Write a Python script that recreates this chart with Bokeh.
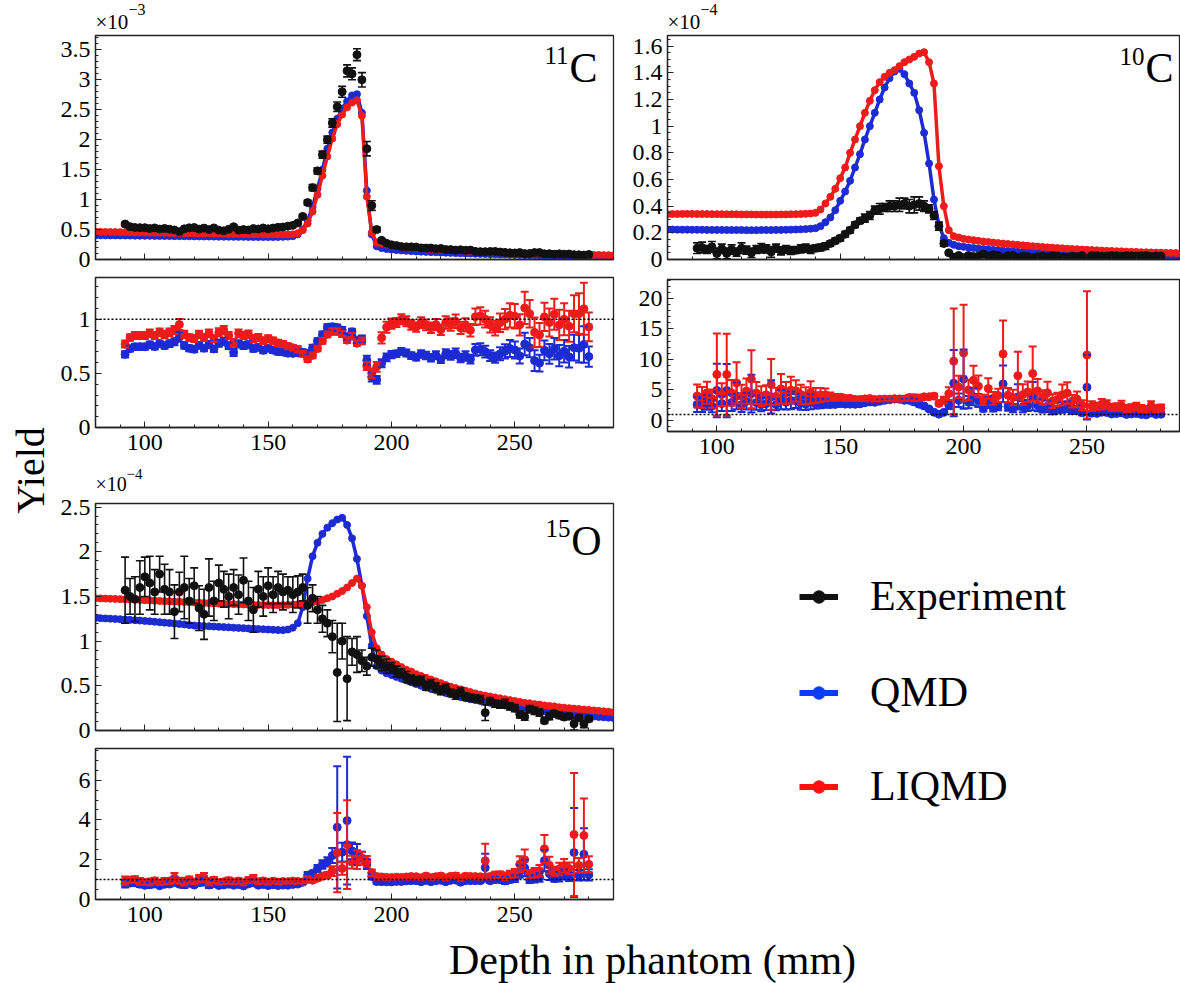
import math
from bokeh.plotting import figure
from bokeh.models import (Range1d, FixedTicker, ColumnDataSource, Whisker, TeeHead,
                          Span, Label, Legend, LegendItem)
from bokeh.layouts import row, column
from bokeh.core.properties import value
from bokeh.embed import file_html
from bokeh.resources import INLINE

FONT = "Liberation Serif"
FRAME = "#222222"
BLACK = "#111111"
BLUE = "#1c2bd2"
RED = "#ee1b1b"
LEG_COLORS = ["#111111", "#0b3cf5", "#ff1010"]
LEG_NAMES = ["Experiment", "QMD", "LIQMD"]

# ---------------- depth grids (mm) ----------------
SIM_DEPTH_MM = [80, 82, 84, 86, 88, 90, 92, 94, 96, 98,
                100, 102, 104, 106, 108, 110, 112, 114, 116, 118,
                120, 122, 124, 126, 128, 130, 132, 134, 136, 138,
                140, 142, 144, 146, 148, 150, 152, 154, 156, 158,
                160, 162, 164, 166, 168, 170, 172, 174, 176, 178,
                180, 182, 184, 186, 188, 190, 192, 194, 196, 198,
                200, 202, 204, 206, 208, 210, 212, 214, 216, 218,
                220, 222, 224, 226, 228, 230, 232, 234, 236, 238,
                240, 242, 244, 246, 248, 250, 252, 254, 256, 258,
                260, 262, 264, 266, 268, 270, 272, 274, 276, 278,
                280, 282, 284, 286, 288, 290]

EXP_DEPTH_MM = [92, 94, 96, 98, 100, 102, 104, 106, 108, 110,
                112, 114, 116, 118, 120, 122, 124, 126, 128, 130,
                132, 134, 136, 138, 140, 142, 144, 146, 148, 150,
                152, 154, 156, 158, 160, 162, 164, 166, 168, 170,
                172, 174, 176, 178, 180, 182, 184, 186, 188, 190,
                192, 194, 196, 198, 200, 202, 204, 206, 208, 210,
                212, 214, 216, 218, 220, 222, 224, 226, 228, 230,
                232, 234, 236, 238, 240, 242, 244, 246, 248, 250,
                252, 254, 256, 258, 260, 262, 264, 266, 268, 270,
                272, 274, 276, 278, 280]

# ---------------- 11C yield (x 1e-3) ----------------
C11_QMD = [0.405, 0.404, 0.403, 0.402, 0.402, 0.401, 0.400, 0.399, 0.398, 0.397,
           0.396, 0.395, 0.394, 0.393, 0.392, 0.391, 0.390, 0.389, 0.388, 0.387,
           0.386, 0.385, 0.384, 0.383, 0.382, 0.381, 0.380, 0.380, 0.379, 0.378,
           0.378, 0.377, 0.376, 0.376, 0.375, 0.375, 0.375, 0.376, 0.378, 0.382,
           0.39, 0.42, 0.50, 0.65, 0.88, 1.18, 1.50, 1.85, 2.12, 2.35,
           2.52, 2.64, 2.74, 2.76, 2.45, 1.15, 0.42, 0.22, 0.19, 0.175,
           0.165, 0.158, 0.151, 0.145, 0.140, 0.135, 0.131, 0.127, 0.123, 0.120,
           0.116, 0.113, 0.110, 0.107, 0.104, 0.101, 0.099, 0.096, 0.094, 0.091,
           0.089, 0.087, 0.085, 0.083, 0.081, 0.078, 0.076, 0.074, 0.073, 0.071,
           0.069, 0.067, 0.066, 0.064, 0.063, 0.062, 0.060, 0.059, 0.057, 0.056,
           0.055, 0.054, 0.053, 0.051, 0.050, 0.049]
C11_LIQMD = [0.462, 0.461, 0.460, 0.459, 0.458, 0.457, 0.456, 0.455, 0.454, 0.452,
             0.451, 0.450, 0.448, 0.447, 0.446, 0.444, 0.443, 0.442, 0.440, 0.439,
             0.438, 0.436, 0.435, 0.434, 0.432, 0.431, 0.430, 0.428, 0.427, 0.426,
             0.425, 0.424, 0.423, 0.422, 0.421, 0.420, 0.420, 0.419, 0.418, 0.418,
             0.42, 0.44, 0.49, 0.60, 0.80, 1.08, 1.40, 1.72, 2.02, 2.26,
             2.42, 2.54, 2.62, 2.66, 2.40, 1.05, 0.45, 0.28, 0.265, 0.25,
             0.235, 0.225, 0.215, 0.207, 0.200, 0.193, 0.187, 0.181, 0.176, 0.171,
             0.166, 0.161, 0.157, 0.153, 0.149, 0.145, 0.141, 0.137, 0.134, 0.130,
             0.127, 0.124, 0.121, 0.118, 0.115, 0.112, 0.109, 0.106, 0.104, 0.101,
             0.099, 0.096, 0.094, 0.092, 0.090, 0.088, 0.086, 0.084, 0.082, 0.080,
             0.078, 0.077, 0.075, 0.073, 0.072, 0.070]
C11_EXP = [0.592, 0.548, 0.534, 0.532, 0.531, 0.517, 0.527, 0.508, 0.519, 0.505,
           0.492, 0.465, 0.512, 0.529, 0.534, 0.507, 0.524, 0.499, 0.527, 0.490,
           0.478, 0.504, 0.547, 0.490, 0.500, 0.493, 0.516, 0.508, 0.526, 0.512,
           0.525, 0.537, 0.543, 0.557, 0.570, 0.610, 0.720, 0.950, 1.200, 1.480,
           1.750, 2.000, 2.280, 2.550, 2.800, 3.150, 3.100, 3.420, 3.000, 1.850,
           0.900, 0.500, 0.320, 0.270, 0.245, 0.232, 0.215, 0.211, 0.211, 0.208,
           0.193, 0.191, 0.191, 0.180, 0.184, 0.166, 0.165, 0.156, 0.162, 0.153,
           0.157, 0.134, 0.130, 0.130, 0.134, 0.135, 0.125, 0.118, 0.111, 0.109,
           0.115, 0.096, 0.099, 0.115, 0.116, 0.094, 0.097, 0.088, 0.095, 0.088,
           0.092, 0.080, 0.078, 0.073, 0.084]
C11_EXP_ERR = [0.025, 0.02, 0.02, 0.02, 0.02, 0.02, 0.02, 0.02, 0.02, 0.02,
               0.02, 0.025, 0.02, 0.02, 0.02, 0.02, 0.02, 0.02, 0.02, 0.02,
               0.02, 0.02, 0.025, 0.02, 0.02, 0.02, 0.02, 0.02, 0.02, 0.02,
               0.02, 0.02, 0.02, 0.02, 0.02, 0.025, 0.03, 0.04, 0.05, 0.05,
               0.06, 0.06, 0.07, 0.08, 0.09, 0.10, 0.10, 0.10, 0.12, 0.12,
               0.08, 0.04, 0.02, 0.015, 0.012, 0.010, 0.010, 0.010, 0.010, 0.010,
               0.010, 0.010, 0.010, 0.010, 0.010, 0.010, 0.010, 0.010, 0.010, 0.010,
               0.010, 0.010, 0.010, 0.010, 0.010, 0.010, 0.011, 0.011, 0.012, 0.012,
               0.012, 0.013, 0.012, 0.018, 0.015, 0.012, 0.013, 0.012, 0.014, 0.013,
               0.014, 0.013, 0.014, 0.016, 0.012]

# ---------------- 10C yield (x 1e-4) ----------------
C10_QMD = [0.225, 0.225, 0.224, 0.224, 0.224, 0.223, 0.223, 0.223, 0.222, 0.222,
           0.222, 0.222, 0.221, 0.221, 0.221, 0.221, 0.220, 0.220, 0.220, 0.221,
           0.221, 0.221, 0.222, 0.222, 0.223, 0.224, 0.225, 0.226, 0.228, 0.231,
           0.235, 0.250, 0.280, 0.315, 0.370, 0.440, 0.510, 0.590, 0.690, 0.790,
           0.900, 1.000, 1.100, 1.200, 1.290, 1.360, 1.410, 1.430, 1.390, 1.320,
           1.250, 1.120, 0.950, 0.720, 0.450, 0.260, 0.160, 0.125, 0.110, 0.100,
           0.095, 0.090, 0.086, 0.082, 0.078, 0.075, 0.072, 0.069, 0.066, 0.063,
           0.061, 0.058, 0.056, 0.054, 0.052, 0.050, 0.048, 0.047, 0.045, 0.044,
           0.042, 0.041, 0.040, 0.039, 0.038, 0.037, 0.036, 0.035, 0.034, 0.033,
           0.032, 0.032, 0.031, 0.030, 0.030, 0.029, 0.028, 0.028, 0.027, 0.027,
           0.026, 0.026, 0.025, 0.025, 0.024, 0.024]
C10_LIQMD = [0.340, 0.341, 0.341, 0.342, 0.342, 0.342, 0.341, 0.341, 0.341, 0.340,
             0.340, 0.340, 0.339, 0.339, 0.339, 0.338, 0.338, 0.338, 0.337, 0.337,
             0.337, 0.337, 0.337, 0.338, 0.338, 0.339, 0.340, 0.341, 0.343, 0.345,
             0.350, 0.375, 0.420, 0.470, 0.530, 0.610, 0.690, 0.800, 0.900, 1.000,
             1.100, 1.190, 1.270, 1.330, 1.370, 1.400, 1.420, 1.450, 1.480, 1.500,
             1.520, 1.545, 1.555, 1.480, 1.320, 0.700, 0.400, 0.220, 0.175, 0.165,
             0.155, 0.150, 0.145, 0.140, 0.135, 0.131, 0.127, 0.123, 0.120, 0.116,
             0.113, 0.110, 0.106, 0.103, 0.100, 0.097, 0.094, 0.091, 0.089, 0.086,
             0.084, 0.081, 0.079, 0.077, 0.075, 0.073, 0.071, 0.069, 0.067, 0.065,
             0.064, 0.062, 0.061, 0.059, 0.058, 0.057, 0.055, 0.054, 0.053, 0.052,
             0.051, 0.050, 0.049, 0.048, 0.047, 0.046]
C10_EXP = [0.085, 0.090, 0.075, 0.095, 0.045, 0.080, 0.045, 0.075, 0.055, 0.085,
           0.070, 0.050, 0.075, 0.085, 0.080, 0.057, 0.085, 0.065, 0.075, 0.068,
           0.070, 0.080, 0.085, 0.075, 0.085, 0.090, 0.100, 0.120, 0.140, 0.160,
           0.190, 0.220, 0.260, 0.290, 0.310, 0.330, 0.370, 0.380, 0.390, 0.400,
           0.400, 0.410, 0.420, 0.400, 0.410, 0.420, 0.400, 0.380, 0.330, 0.250,
           0.120, 0.050, 0.018, 0.030, 0.014, 0.030, 0.022, 0.025, 0.040, 0.025,
           0.035, 0.030, 0.011, 0.028, 0.030, 0.015, 0.025, 0.022, 0.013, 0.020,
           0.025, 0.020, 0.028, 0.025, 0.020, 0.018, 0.025, 0.022, 0.030, 0.0068,
           0.030, 0.030, 0.025, 0.025, 0.030, 0.028, 0.025, 0.030, 0.028, 0.025,
           0.028, 0.030, 0.022, 0.027, 0.025]
C10_EXP_ERR = [0.040, 0.040, 0.030, 0.040, 0.040, 0.035, 0.040, 0.035, 0.030, 0.040,
               0.030, 0.035, 0.030, 0.035, 0.030, 0.040, 0.030, 0.030, 0.030, 0.030,
               0.025, 0.030, 0.030, 0.030, 0.025, 0.025, 0.025, 0.020, 0.020, 0.020,
               0.020, 0.020, 0.020, 0.020, 0.030, 0.030, 0.030, 0.040, 0.030, 0.040,
               0.040, 0.050, 0.040, 0.050, 0.060, 0.050, 0.040, 0.030, 0.030, 0.030,
               0.020, 0.012, 0.016, 0.010, 0.010, 0.010, 0.008, 0.008, 0.010, 0.008,
               0.010, 0.008, 0.0055, 0.008, 0.010, 0.008, 0.010, 0.008, 0.0075, 0.008,
               0.008, 0.008, 0.010, 0.008, 0.008, 0.007, 0.008, 0.008, 0.010, 0.0066,
               0.010, 0.008, 0.008, 0.007, 0.008, 0.008, 0.008, 0.008, 0.008, 0.007,
               0.008, 0.008, 0.007, 0.008, 0.007]

# ---------------- 15O yield (x 1e-4) ----------------
C15O_QMD = [1.260, 1.257, 1.254, 1.251, 1.248, 1.245, 1.242, 1.238, 1.234, 1.230,
            1.226, 1.222, 1.217, 1.212, 1.207, 1.202, 1.197, 1.192, 1.187, 1.180,
            1.175, 1.172, 1.169, 1.166, 1.163, 1.160, 1.157, 1.154, 1.151, 1.148,
            1.145, 1.142, 1.139, 1.136, 1.133, 1.130, 1.127, 1.124, 1.123, 1.130,
            1.150, 1.200, 1.380, 1.700, 1.950, 2.100, 2.200, 2.270, 2.320, 2.360,
            2.380, 2.300, 2.150, 1.920, 1.620, 1.280, 0.950, 0.720, 0.670, 0.640,
            0.620, 0.600, 0.580, 0.560, 0.540, 0.520, 0.500, 0.480, 0.465, 0.450,
            0.435, 0.420, 0.405, 0.390, 0.375, 0.360, 0.350, 0.340, 0.330, 0.320,
            0.310, 0.300, 0.290, 0.280, 0.270, 0.262, 0.254, 0.246, 0.238, 0.230,
            0.222, 0.215, 0.208, 0.201, 0.195, 0.189, 0.183, 0.177, 0.171, 0.166,
            0.161, 0.156, 0.152, 0.148, 0.144, 0.140]
C15O_LIQMD = [1.480, 1.478, 1.476, 1.474, 1.472, 1.470, 1.468, 1.465, 1.462, 1.460,
              1.457, 1.455, 1.452, 1.450, 1.447, 1.445, 1.442, 1.440, 1.437, 1.435,
              1.432, 1.430, 1.427, 1.425, 1.422, 1.420, 1.418, 1.416, 1.414, 1.412,
              1.410, 1.408, 1.406, 1.405, 1.404, 1.403, 1.402, 1.402, 1.403, 1.405,
              1.408, 1.412, 1.418, 1.425, 1.435, 1.445, 1.460, 1.480, 1.500, 1.530,
              1.560, 1.600, 1.650, 1.700, 1.620, 1.380, 1.100, 0.920, 0.850, 0.800,
              0.770, 0.740, 0.710, 0.680, 0.660, 0.630, 0.610, 0.590, 0.570, 0.550,
              0.530, 0.510, 0.490, 0.475, 0.460, 0.445, 0.430, 0.415, 0.400, 0.390,
              0.380, 0.370, 0.360, 0.350, 0.340, 0.330, 0.320, 0.310, 0.305, 0.295,
              0.290, 0.280, 0.275, 0.270, 0.260, 0.255, 0.250, 0.245, 0.240, 0.235,
              0.230, 0.225, 0.220, 0.215, 0.210, 0.205]
C15O_EXP = [1.57, 1.50, 1.47, 1.60, 1.72, 1.65, 1.55, 1.75, 1.58, 1.55,
            1.33, 1.55, 1.60, 1.45, 1.62, 1.37, 1.30, 1.60, 1.45, 1.65,
            1.58, 1.50, 1.60, 1.52, 1.68, 1.45, 1.35, 1.58, 1.50, 1.62,
            1.52, 1.60, 1.55, 1.57, 1.52, 1.55, 1.60, 1.40, 1.48, 1.35,
            1.25, 1.20, 1.05, 0.65, 1.00, 0.58, 0.88, 0.85, 0.78, 0.72,
            0.82, 0.80, 0.75, 0.72, 0.70, 0.66, 0.64, 0.60, 0.57, 0.55,
            0.56, 0.50, 0.52, 0.48, 0.45, 0.47, 0.42, 0.40, 0.43, 0.38,
            0.37, 0.36, 0.35, 0.20, 0.33, 0.30, 0.29, 0.30, 0.27, 0.25,
            0.18, 0.155, 0.24, 0.22, 0.20, 0.11, 0.16, 0.19, 0.17, 0.15,
            0.16, 0.075, 0.14, 0.073, 0.13]
C15O_EXP_ERR = [0.37, 0.20, 0.25, 0.30, 0.22, 0.30, 0.25, 0.20, 0.28, 0.25,
                0.30, 0.22, 0.35, 0.25, 0.20, 0.25, 0.28, 0.32, 0.22, 0.20,
                0.20, 0.25, 0.20, 0.22, 0.25, 0.22, 0.25, 0.20, 0.22, 0.20,
                0.20, 0.18, 0.20, 0.15, 0.20, 0.18, 0.15, 0.20, 0.15, 0.15,
                0.15, 0.15, 0.18, 0.55, 0.20, 0.47, 0.15, 0.20, 0.12, 0.10,
                0.10, 0.10, 0.08, 0.08, 0.06, 0.06, 0.05, 0.06, 0.05, 0.05,
                0.05, 0.05, 0.05, 0.05, 0.05, 0.05, 0.04, 0.05, 0.05, 0.04,
                0.04, 0.04, 0.04, 0.088, 0.04, 0.04, 0.04, 0.05, 0.04, 0.04,
                0.04, 0.04, 0.04, 0.04, 0.04, 0.03, 0.04, 0.03, 0.035, 0.03,
                0.03, 0.071, 0.03, 0.042, 0.03]

# ---------------- ticks ----------------
X_TICKS = [100, 150, 200, 250]
X_LABELS = ["100", "150", "200", "250"]
X_MINOR = [80, 90, 110, 120, 130, 140, 160, 170, 180, 190, 210, 220, 230, 240, 260, 270, 280, 290]

C11_TICKS = [0, 0.5, 1, 1.5, 2, 2.5, 3, 3.5]
C11_LABELS = ["0", "0.5", "1", "1.5", "2", "2.5", "3", "3.5"]
C10_TICKS = [0, 0.2, 0.4, 0.6, 0.8, 1, 1.2, 1.4, 1.6]
C10_LABELS = ["0", "0.2", "0.4", "0.6", "0.8", "1", "1.2", "1.4", "1.6"]
C15O_TICKS = [0, 0.5, 1, 1.5, 2, 2.5]
C15O_LABELS = ["0", "0.5", "1", "1.5", "2", "2.5"]
R11_TICKS = [0, 0.5, 1]
R11_LABELS = ["0", "0.5", "1"]
R10_TICKS = [0, 5, 10, 15, 20]
R10_LABELS = ["0", "5", "10", "15", "20"]
R15_TICKS = [0, 2, 4, 6]
R15_LABELS = ["0", "2", "4", "6"]
UNITY = 1.0
TICK_FONT_SIZE = "24px"


def minor(lo, hi, step):
    n = int(round((hi - lo) / step))
    return [round(lo + i * step, 4) for i in range(n + 1)]


def base_fig(fw, fh, bl, br, bt, bb, xr, yr):
    p = figure(frame_width=fw, frame_height=fh, min_border_left=bl, min_border_right=br,
               min_border_top=bt, min_border_bottom=bb,
               x_range=Range1d(*xr), y_range=Range1d(*yr),
               output_backend="svg", toolbar_location=None)
    p.grid.visible = False
    p.outline_line_color = FRAME
    p.outline_line_width = 1.3
    p.background_fill_color = "white"
    p.border_fill_color = "white"
    return p


def blank_fig(w, h):
    p = figure(frame_width=w, frame_height=h, min_border=0, x_range=Range1d(0, 1), y_range=Range1d(0, 1),
               x_axis_location=None, y_axis_location=None, output_backend="svg", toolbar_location=None)
    p.grid.visible = False
    p.outline_line_color = None
    p.background_fill_color = "white"
    p.border_fill_color = "white"
    return p


def style_axes(p, yticks, ylabels, yminor, xlabels_on):
    xa = p.xaxis[0]
    ya = p.yaxis[0]
    xa.ticker = FixedTicker(ticks=X_TICKS, minor_ticks=X_MINOR)
    ya.ticker = FixedTicker(ticks=yticks, minor_ticks=yminor)
    ya.major_label_overrides = dict(zip(yticks, ylabels))
    if xlabels_on:
        xa.major_label_overrides = dict(zip(X_TICKS, X_LABELS))
        xa.major_label_standoff = 7
        xa.major_label_text_font_size = TICK_FONT_SIZE
    else:
        xa.major_label_overrides = {t: "" for t in X_TICKS}
        xa.major_label_standoff = 0
        xa.major_label_text_font_size = "6px"
    for ax in (xa, ya):
        ax.axis_line_color = FRAME
        ax.axis_line_width = 1.3
        ax.major_tick_in = 6
        ax.major_tick_out = 0
        ax.minor_tick_in = 3
        ax.minor_tick_out = 0
        ax.major_tick_line_color = FRAME
        ax.minor_tick_line_color = FRAME
        ax.major_label_text_font = FONT
        ax.major_label_text_color = "black"
    ya.major_label_text_font_size = TICK_FONT_SIZE
    ya.major_label_standoff = 5


def text_label(p, x, y, text, size, align="left"):
    p.add_layout(Label(x=x, y=y, x_units="screen", y_units="screen", text=text,
                       text_font=FONT, text_font_size=size, text_baseline="middle",
                       text_align=align, text_color="black"))


def header(w, h, exp_text, base_y, sup_y, base_size, sup_size, sup_x):
    # the header strip's frame lines up with the panel frame below it
    hf = blank_fig(w, h)
    text_label(hf, 0, base_y, "×10", base_size)
    text_label(hf, sup_x, sup_y, exp_text, sup_size)
    return hf


def nuclide(p, fw, fh, mass, sym, right_inset, sym_w, sym_drop, mass_drop):
    text_label(p, fw - right_inset, fh - sym_drop, sym, "42px", "right")
    text_label(p, fw - right_inset - sym_w - 1, fh - mass_drop, mass, "25px", "right")


def sim_curve(p, depth, vals, color):
    p.line(depth, vals, line_color=color, line_width=3.5)
    p.scatter(depth, vals, size=7, fill_color=color, line_color=color)


def points_with_errors(p, depth, vals, errs, color, size=8, lw=1.6, head=8):
    src = ColumnDataSource(dict(x=depth, y=vals,
                                lo=[v - e for v, e in zip(vals, errs)],
                                hi=[v + e for v, e in zip(vals, errs)]))
    w = Whisker(source=src, base="x", lower="lo", upper="hi", line_color=color, line_width=lw,
                lower_head=TeeHead(size=head, line_color=color, line_width=lw),
                upper_head=TeeHead(size=head, line_color=color, line_width=lw), level="glyph")
    p.add_layout(w)
    p.scatter("x", "y", source=src, size=size, fill_color=color, line_color=color)


def ratio_series(sim, exp, err):
    sim_at = dict(zip(SIM_DEPTH_MM, sim))
    r = [sim_at[d] / e for d, e in zip(EXP_DEPTH_MM, exp)]
    re = [ri * ee / e for ri, ee, e in zip(r, err, exp)]
    return r, re


def unity_line(p):
    p.add_layout(Span(location=UNITY, dimension="width", line_color="black",
                      line_width=1.5, line_dash="2 2"))


LW, RW = 518, 512
XL = (80, 290)
XR = (80, 287.5)

# ---- left column ----
hdr_tl = header(572, 33, "−3", 12, 24.5, "21px", "16px", 33)

tl = base_fig(LW, 224, 39, 15, 2, 13, XL, (0, 3.74))
style_axes(tl, C11_TICKS, C11_LABELS, minor(0, 3.7, 0.1), False)
sim_curve(tl, SIM_DEPTH_MM, C11_QMD, BLUE)
sim_curve(tl, SIM_DEPTH_MM, C11_LIQMD, RED)
points_with_errors(tl, EXP_DEPTH_MM, C11_EXP, C11_EXP_ERR, BLACK)
nuclide(tl, LW, 224, "11", "C", 16, 28, 32, 20)

tlr = base_fig(LW, 150, 39, 15, 5, 37, XL, (0, 1.385))
style_axes(tlr, R11_TICKS, R11_LABELS, minor(0, 1.3, 0.1), True)
unity_line(tlr)
r, re = ratio_series(C11_QMD, C11_EXP, C11_EXP_ERR)
points_with_errors(tlr, EXP_DEPTH_MM, r, re, BLUE, lw=2)
r, re = ratio_series(C11_LIQMD, C11_EXP, C11_EXP_ERR)
points_with_errors(tlr, EXP_DEPTH_MM, r, re, RED, lw=2)

hdr_bl = header(572, 29, "−4", 10, 20, "20px", "15px", 31)

bl = base_fig(LW, 227, 39, 15, 10, 13, XL, (0, 2.54))
style_axes(bl, C15O_TICKS, C15O_LABELS, minor(0, 2.5, 0.1), False)
sim_curve(bl, SIM_DEPTH_MM, C15O_QMD, BLUE)
sim_curve(bl, SIM_DEPTH_MM, C15O_LIQMD, RED)
points_with_errors(bl, EXP_DEPTH_MM, C15O_EXP, C15O_EXP_ERR, BLACK)
nuclide(bl, LW, 227, "15", "O", 12, 30, 37, 25)

blr = base_fig(LW, 151, 39, 15, 5, 36, XL, (0, 7.59))
style_axes(blr, R15_TICKS, R15_LABELS, minor(0, 7.5, 0.5), True)
unity_line(blr)
r, re = ratio_series(C15O_QMD, C15O_EXP, C15O_EXP_ERR)
points_with_errors(blr, EXP_DEPTH_MM, r, re, BLUE, lw=2)
r, re = ratio_series(C15O_LIQMD, C15O_EXP, C15O_EXP_ERR)
points_with_errors(blr, EXP_DEPTH_MM, r, re, RED, lw=2)

# ---- right column ----
hdr_tr = header(552, 33, "−4", 12, 24.5, "21px", "16px", 33)

tr = base_fig(RW, 224, 39, 1, 2, 13, XR, (0, 1.68))
style_axes(tr, C10_TICKS, C10_LABELS, minor(0, 1.65, 0.05), False)
sim_curve(tr, SIM_DEPTH_MM, C10_QMD, BLUE)
sim_curve(tr, SIM_DEPTH_MM, C10_LIQMD, RED)
points_with_errors(tr, EXP_DEPTH_MM, C10_EXP, C10_EXP_ERR, BLACK)
nuclide(tr, RW, 224, "10", "C", 6, 28, 32, 21)

trr = base_fig(RW, 152, 39, 1, 7, 40, XR, (-1.8, 23.1))
style_axes(trr, R10_TICKS, R10_LABELS, minor(-1, 23, 1), True)
unity_line(trr)
r, re = ratio_series(C10_QMD, C10_EXP, C10_EXP_ERR)
points_with_errors(trr, EXP_DEPTH_MM, r, re, BLUE, lw=2)
r, re = ratio_series(C10_LIQMD, C10_EXP, C10_EXP_ERR)
points_with_errors(trr, EXP_DEPTH_MM, r, re, RED, lw=2)

# legend panel (renderers hold the real series, lying outside this panel's 0..1 view)
lg = blank_fig(552, 464)
ITEM_H = 46
LEG_SERIES = [(EXP_DEPTH_MM, C11_EXP), (SIM_DEPTH_MM, C11_QMD), (SIM_DEPTH_MM, C11_LIQMD)]
for name, col, (xs, ys), cy in zip(LEG_NAMES, LEG_COLORS, LEG_SERIES, [338, 242, 148]):
    lr = lg.line(x=xs, y=ys, line_color=col, line_width=6)
    sr = lg.scatter(x=xs, y=ys, size=12, fill_color=col, line_color=col)
    leg = Legend(items=[LegendItem(label=value(name), renderers=[lr, sr])],
                 location=(171, cy - ITEM_H / 2))
    leg.border_line_color = None
    leg.background_fill_alpha = 0
    leg.label_text_font = FONT
    leg.label_text_font_size = "42px"
    leg.label_text_color = "black"
    leg.glyph_width = 39
    leg.glyph_height = 31
    leg.label_height = 31
    leg.label_standoff = 32
    leg.padding = 0
    leg.margin = 0
    lg.add_layout(leg)

# "Yield" label strip
yf = blank_fig(56, 935)
yf.add_layout(Label(x=30, y=465, x_units="screen", y_units="screen", text="Yield", angle=math.pi / 2,
                    text_align="center", text_baseline="middle", text_font=FONT,
                    text_font_size="40px", text_color="black"))

# x label strip
df = blank_fig(1180, 48)
df.add_layout(Label(x=652, y=24, x_units="screen", y_units="screen", text="Depth in phantom (mm)",
                    text_align="center", text_baseline="middle", text_font=FONT,
                    text_font_size="42px", text_color="black"))

layout = column(row(yf, column(hdr_tl, tl, tlr, hdr_bl, bl, blr),
                    column(hdr_tr, tr, trr, lg)), df)

open("out.html", "w").write(file_html(layout, INLINE, title="Yield vs depth"))
